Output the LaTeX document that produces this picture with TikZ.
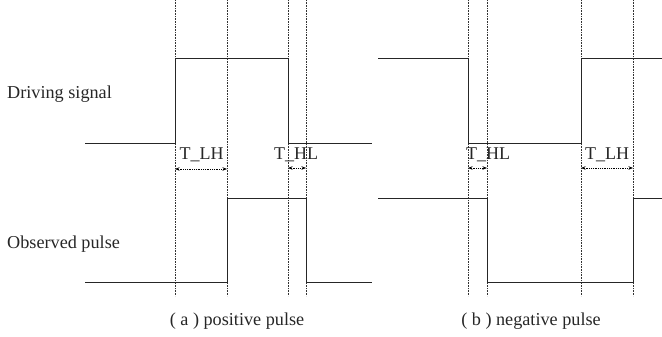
\documentclass[tikz,border=0pt]{standalone}
\usepackage{fontspec}
\setmainfont{Liberation Serif}
\usetikzlibrary{arrows.meta}
\begin{document}
\begin{tikzpicture}[x=1pt,y=-1pt,
  sig/.style={line width=0.95pt,color=black!85},
  guide/.style={densely dotted,line width=0.6pt,color=black!80},
  dim/.style={densely dotted,line width=0.8pt,{Stealth[length=4.5pt,width=3.5pt]}-{Stealth[length=4.5pt,width=3.5pt]}},
  lbl/.style={font=\fontsize{18.2}{21}\selectfont,inner sep=0pt,text=black!85},
  tl/.style={font=\fontsize{18}{21}\selectfont,inner sep=0pt,text=black!85}]
\useasboundingbox (0,0) rectangle (662,337);
% guides
\foreach \x in {175,227,288,306,468,487,581,633}
  \draw[guide] (\x,0) -- (\x,296);
% left panel signals
\draw[sig] (85,143) -- (175,143) -- (175,58) -- (288,58) -- (288,143) -- (372,143);
\draw[sig] (85,282) -- (227,282) -- (227,198) -- (306,198) -- (306,282) -- (372,282);
% right panel signals
\draw[sig] (378,58) -- (468,58) -- (468,143) -- (581,143) -- (581,58) -- (662,58);
\draw[sig] (378,198) -- (487,198) -- (487,282) -- (633,282) -- (633,198) -- (662,198);
% labels
\node[lbl,anchor=west] (drv) at (7,94) {Driving signal};
\node[lbl,anchor=west] (obs) at (7,244) {Observed pulse};
\node[lbl] (capa) at (237,321) {( a ) positive pulse};
\node[lbl] (capb) at (531,321) {( b ) negative pulse};
\node[tl] (tlh1) at (201.5,155) {T\_LH};
\node[tl] (thl1) at (296,155) {T\_HL};
\node[tl] (thl2) at (488,155) {T\_HL};
\node[tl] (tlh2) at (607,155) {T\_LH};
% dimension arrows
\coordinate (a1) at (175,169); \coordinate (a2) at (227,169);
\coordinate (b1) at (288,168); \coordinate (b2) at (306,168);
\coordinate (c1) at (468,168); \coordinate (c2) at (487,168);
\coordinate (d1) at (581,168); \coordinate (d2) at (633,168);
\draw[dim] (a1) -- (a2);
\draw[dim] (b1) -- (b2);
\draw[dim] (c1) -- (c2);
\draw[dim] (d1) -- (d2);
\end{tikzpicture}
\end{document}
